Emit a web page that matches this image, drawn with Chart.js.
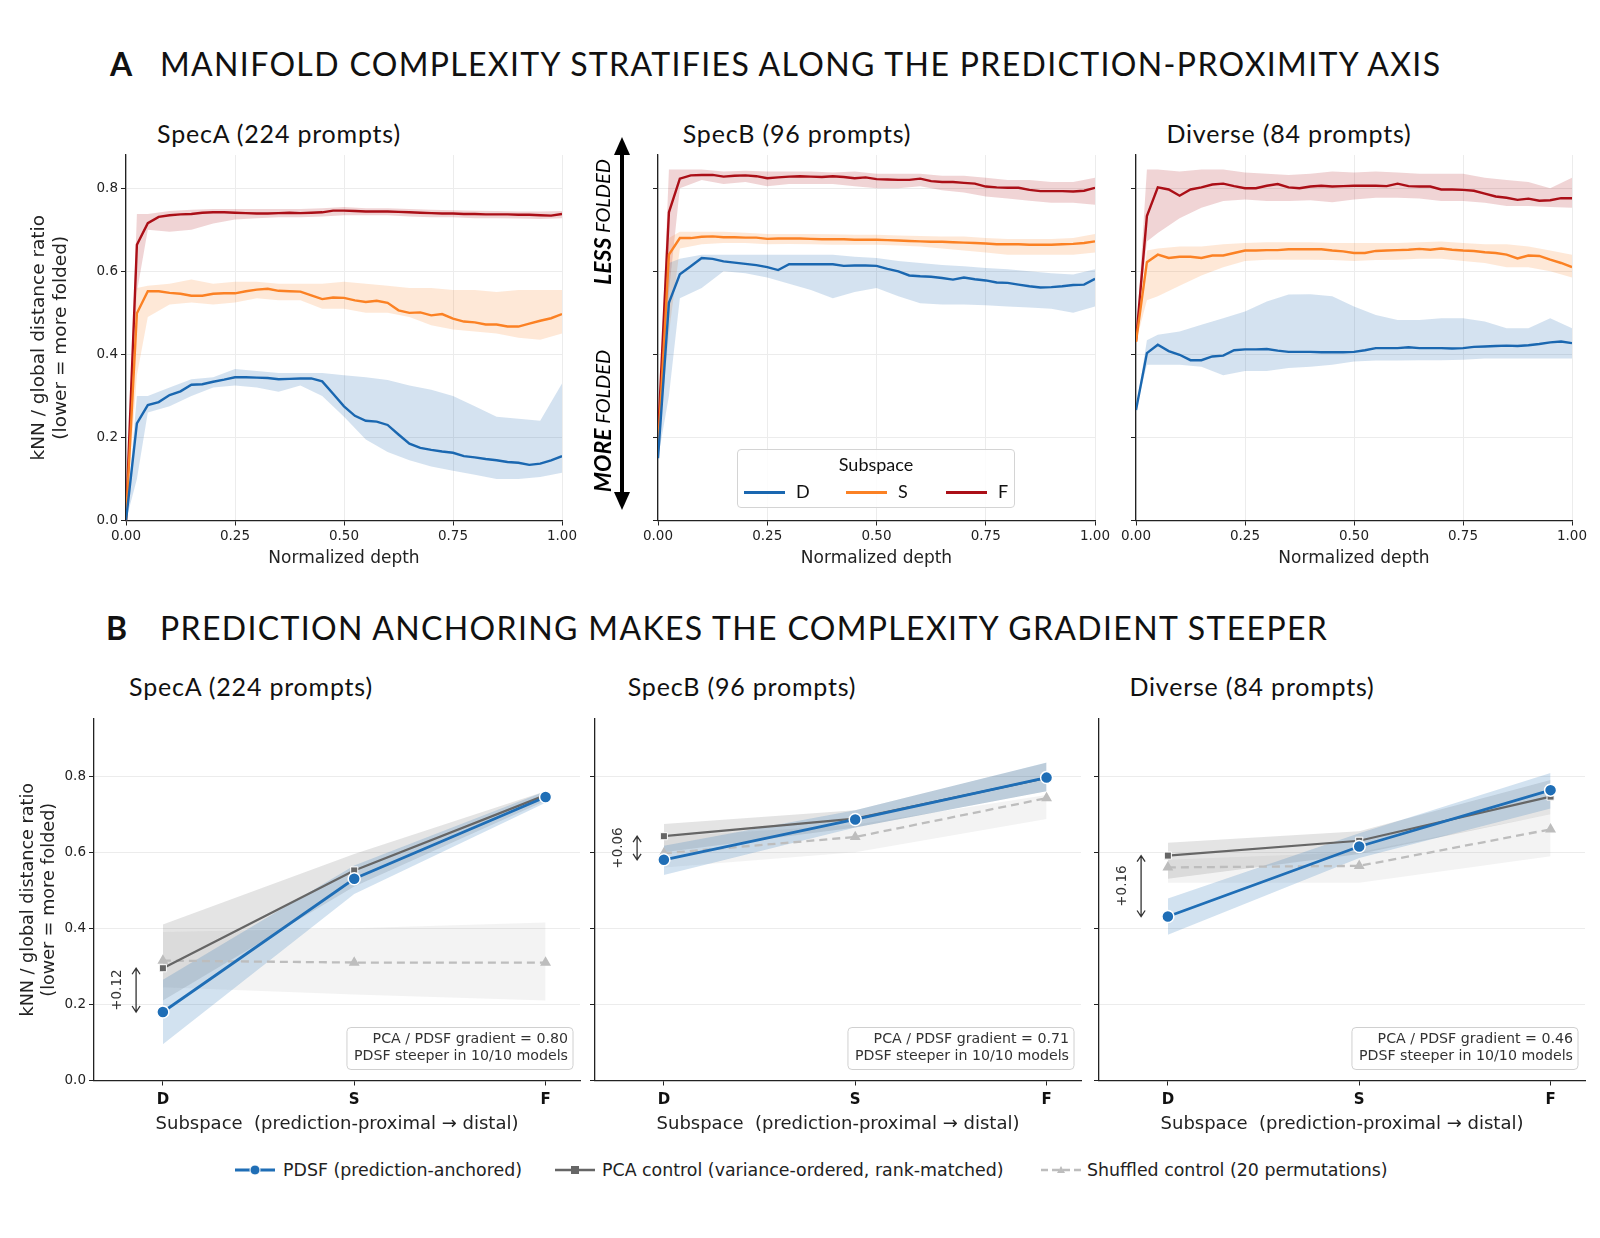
<!DOCTYPE html>
<html>
<head>
<meta charset="utf-8">
<title>Manifold complexity along the prediction-proximity axis</title>
<script src="https://cdn.jsdelivr.net/npm/chart.js@4.4.1/dist/chart.umd.min.js"></script>
<style>
  html, body { margin: 0; padding: 0; background: #fff; }
  #page { position: relative; width: 1600px; height: 1238px; overflow: hidden; font-family: Lato, 'Noto Sans', sans-serif; color: #111; }
  .plot { position: absolute; }
  .heading { position: absolute; font-size: 32px; line-height: 36px; white-space: nowrap; }
  .heading b { position: absolute; left: 0; top: 0; }
  .heading span { position: absolute; left: 50px; top: 0; letter-spacing: 1.35px; }
  .sub { position: absolute; font-size: 25px; line-height: 30px; letter-spacing: 0.8px; white-space: nowrap; transform: translate(-50%, -50%); }
  #subLegend { position: absolute; left: 737px; top: 449px; width: 276px; height: 57px; border: 1px solid #d4d4d4; border-radius: 4px; background: rgba(255,255,255,0.85); font-size: 18px; }
  #subLegend div { position: absolute; white-space: nowrap; }
  #subLegend i { position: absolute; height: 3px; width: 41px; top: 41px; }
  .leg { position: absolute; top: 1158px; font-family: 'DejaVu Sans', sans-serif; font-size: 17.4px; line-height: 24px; color: #222; white-space: nowrap; }
</style>
</head>
<body>
<div id="page">
  <div class="heading" style="left:110px; top:46px;"><b>A</b><span>MANIFOLD COMPLEXITY STRATIFIES ALONG THE PREDICTION-PROXIMITY AXIS</span></div>
  <div class="heading" style="left:106px; top:610px;"><b>B</b><span style="left:54px;">PREDICTION ANCHORING MAKES THE COMPLEXITY GRADIENT STEEPER</span></div>

  <div class="sub" style="left:279px; top:133px;">SpecA (224 prompts)</div>
  <div class="sub" style="left:797px; top:133px;">SpecB (96 prompts)</div>
  <div class="sub" style="left:1289px; top:133px;">Diverse (84 prompts)</div>
  <div class="sub" style="left:251px; top:686px;">SpecA (224 prompts)</div>
  <div class="sub" style="left:742px; top:686px;">SpecB (96 prompts)</div>
  <div class="sub" style="left:1252px; top:686px;">Diverse (84 prompts)</div>

  <div class="plot" style="left:15px; top:141.5px; width:575px; height:435px;"><canvas id="depthA"></canvas></div>
  <div class="plot" style="left:630px; top:141.5px; width:490px; height:435px;"><canvas id="depthB"></canvas></div>
  <div class="plot" style="left:1105px; top:141.5px; width:493px; height:435px;"><canvas id="depthC"></canvas></div>

  <div class="plot" style="left:5px; top:702px; width:587px; height:435px;"><canvas id="anchorA"></canvas></div>
  <div class="plot" style="left:570px; top:702px; width:523px; height:435px;"><canvas id="anchorB"></canvas></div>
  <div class="plot" style="left:1075px; top:702px; width:522px; height:435px;"><canvas id="anchorC"></canvas></div>

  <!-- folded / less folded cue between the first two depth panels -->
  <svg style="position:absolute; left:570px; top:125px;" width="70" height="395">
    <line x1="52" y1="24" x2="52" y2="372" stroke="#000" stroke-width="4"/>
    <polygon points="52,12 44,30 60,30" fill="#000"/>
    <polygon points="52,385 44,367 60,367" fill="#000"/>
    <text transform="translate(32,97) rotate(-90)" text-anchor="middle" dominant-baseline="central" font-family="Lato, sans-serif" font-style="italic" font-size="20"><tspan font-weight="bold" font-size="23">LESS</tspan> FOLDED</text>
    <text transform="translate(32,296) rotate(-90)" text-anchor="middle" dominant-baseline="central" font-family="Lato, sans-serif" font-style="italic" font-size="20"><tspan font-weight="bold" font-size="23">MORE</tspan> FOLDED</text>
  </svg>

  <div id="subLegend">
    <div style="left:0; width:276px; text-align:center; top:3px;">Subspace</div>
    <i style="left:6px; background:#1a67b0;"></i><div style="left:58px; top:30px;">D</div>
    <i style="left:108px; background:#fb8124;"></i><div style="left:160px; top:30px;">S</div>
    <i style="left:208px; background:#ab0f17;"></i><div style="left:260px; top:30px;">F</div>
  </div>

  <svg style="position:absolute; left:225px; top:1155px;" width="880" height="30">
    <line x1="10" y1="15" x2="50" y2="15" stroke="#1f6eb6" stroke-width="3"/>
    <circle cx="30" cy="15" r="5" fill="#1f6eb6" stroke="#fff" stroke-width="1"/>
    <line x1="330" y1="15" x2="370" y2="15" stroke="#666" stroke-width="2.5"/>
    <rect x="346" y="11" width="8" height="8" fill="#666"/>
    <line x1="816" y1="15" x2="856" y2="15" stroke="#bdbdbd" stroke-width="2.5" stroke-dasharray="7,4"/>
    <polygon points="836,11 840,18 832,18" fill="#bdbdbd"/>
  </svg>
  <div class="leg" style="left:283px;">PDSF (prediction-anchored)</div>
  <div class="leg" style="left:602px;">PCA control (variance-ordered, rank-matched)</div>
  <div class="leg" style="left:1087px;">Shuffled control (20 permutations)</div>
</div>

<script>
// ---------- Panel A: kNN / global distance ratio along normalized depth ----------
const depth = [0, 0.025, 0.05, 0.075, 0.1, 0.125, 0.15, 0.175, 0.2, 0.225, 0.25, 0.275, 0.3, 0.325, 0.35, 0.375, 0.4, 0.425, 0.45, 0.475, 0.5,
  0.525, 0.55, 0.575, 0.6, 0.625, 0.65, 0.675, 0.7, 0.725, 0.75, 0.775, 0.8, 0.825, 0.85, 0.875, 0.9, 0.925, 0.95, 0.975, 1.0];
const bandDepth = [0, 0.025, 0.05, 0.1, 0.15, 0.2, 0.25, 0.3, 0.35, 0.4, 0.45, 0.5, 0.55, 0.6, 0.65, 0.7, 0.75, 0.8, 0.85, 0.9, 0.95, 1.0];
const depthTicks = [0, 0.25, 0.5, 0.75, 1.0];
const ratioTicks = [0, 0.2, 0.4, 0.6, 0.8];

// SpecA
const specA_D = [0.0, 0.234, 0.278, 0.285, 0.302, 0.311, 0.327, 0.328, 0.334, 0.339, 0.345, 0.345, 0.344, 0.343, 0.340, 0.341, 0.342, 0.342, 0.335, 0.305, 0.275,
  0.252, 0.240, 0.238, 0.230, 0.207, 0.185, 0.175, 0.170, 0.166, 0.163, 0.155, 0.152, 0.148, 0.145, 0.141, 0.139, 0.134, 0.137, 0.145, 0.155];
const specA_D_lo = [0.0, 0.10, 0.26, 0.275, 0.30, 0.32, 0.325, 0.32, 0.31, 0.325, 0.30, 0.25, 0.195, 0.165, 0.145, 0.13, 0.12, 0.11, 0.10, 0.10, 0.105, 0.115];
const specA_D_hi = [0.0, 0.30, 0.30, 0.32, 0.34, 0.345, 0.365, 0.36, 0.355, 0.355, 0.355, 0.35, 0.345, 0.338, 0.325, 0.315, 0.30, 0.275, 0.25, 0.245, 0.24, 0.33];
const specA_S = [0.0, 0.499, 0.552, 0.552, 0.548, 0.546, 0.541, 0.541, 0.546, 0.547, 0.547, 0.552, 0.556, 0.558, 0.553, 0.552, 0.551, 0.542, 0.533, 0.537, 0.536,
  0.530, 0.526, 0.529, 0.524, 0.506, 0.500, 0.501, 0.494, 0.497, 0.486, 0.479, 0.477, 0.472, 0.472, 0.467, 0.467, 0.474, 0.481, 0.487, 0.497];
const specA_S_lo = [0.0, 0.35, 0.49, 0.52, 0.525, 0.52, 0.525, 0.535, 0.53, 0.53, 0.51, 0.51, 0.50, 0.50, 0.49, 0.47, 0.46, 0.455, 0.45, 0.44, 0.435, 0.45];
const specA_S_hi = [0.0, 0.56, 0.565, 0.57, 0.58, 0.57, 0.575, 0.575, 0.57, 0.57, 0.57, 0.575, 0.57, 0.565, 0.56, 0.56, 0.555, 0.555, 0.55, 0.555, 0.555, 0.555];
const specA_F = [0.0, 0.664, 0.716, 0.731, 0.735, 0.737, 0.738, 0.741, 0.742, 0.742, 0.741, 0.740, 0.739, 0.739, 0.740, 0.741, 0.740, 0.741, 0.742, 0.746, 0.746,
  0.745, 0.744, 0.744, 0.744, 0.743, 0.742, 0.741, 0.740, 0.739, 0.739, 0.738, 0.738, 0.737, 0.737, 0.737, 0.736, 0.736, 0.735, 0.734, 0.738];
const specA_F_lo = [0.0, 0.55, 0.70, 0.695, 0.70, 0.715, 0.725, 0.728, 0.73, 0.73, 0.732, 0.735, 0.735, 0.735, 0.732, 0.73, 0.73, 0.728, 0.728, 0.727, 0.726, 0.728];
const specA_F_hi = [0.0, 0.738, 0.738, 0.745, 0.748, 0.75, 0.75, 0.75, 0.75, 0.75, 0.752, 0.755, 0.752, 0.752, 0.75, 0.748, 0.747, 0.746, 0.745, 0.744, 0.744, 0.745];

// SpecB
const specB_D = [0.15, 0.524, 0.593, 0.612, 0.632, 0.630, 0.624, 0.621, 0.618, 0.615, 0.610, 0.603, 0.617, 0.617, 0.617, 0.617, 0.617, 0.613, 0.614, 0.614, 0.613,
  0.606, 0.600, 0.590, 0.588, 0.587, 0.584, 0.580, 0.585, 0.581, 0.578, 0.573, 0.572, 0.568, 0.564, 0.561, 0.562, 0.564, 0.567, 0.568, 0.582];
const specB_D_lo = [0.15, 0.30, 0.535, 0.56, 0.60, 0.595, 0.585, 0.57, 0.555, 0.535, 0.55, 0.56, 0.54, 0.523, 0.52, 0.52, 0.518, 0.515, 0.513, 0.51, 0.50, 0.515];
const specB_D_hi = [0.15, 0.62, 0.63, 0.64, 0.64, 0.64, 0.64, 0.64, 0.64, 0.64, 0.635, 0.632, 0.625, 0.62, 0.615, 0.612, 0.608, 0.605, 0.60, 0.595, 0.592, 0.605];
const specB_S = [0.17, 0.640, 0.680, 0.680, 0.683, 0.684, 0.682, 0.682, 0.681, 0.681, 0.678, 0.679, 0.679, 0.679, 0.678, 0.677, 0.677, 0.677, 0.676, 0.676, 0.676,
  0.675, 0.674, 0.673, 0.672, 0.671, 0.671, 0.670, 0.669, 0.668, 0.667, 0.665, 0.665, 0.665, 0.664, 0.664, 0.664, 0.665, 0.666, 0.668, 0.672];
const specB_S_lo = [0.17, 0.45, 0.655, 0.665, 0.668, 0.668, 0.665, 0.666, 0.665, 0.664, 0.664, 0.664, 0.662, 0.66, 0.655, 0.65, 0.645, 0.64, 0.64, 0.64, 0.64, 0.645];
const specB_S_hi = [0.17, 0.68, 0.695, 0.695, 0.695, 0.693, 0.69, 0.69, 0.69, 0.689, 0.688, 0.688, 0.686, 0.685, 0.684, 0.684, 0.68, 0.678, 0.678, 0.678, 0.68, 0.69];
const specB_F = [0.20, 0.742, 0.823, 0.831, 0.832, 0.832, 0.828, 0.830, 0.831, 0.829, 0.824, 0.826, 0.828, 0.829, 0.828, 0.827, 0.829, 0.827, 0.824, 0.826, 0.822,
  0.821, 0.820, 0.820, 0.823, 0.817, 0.815, 0.815, 0.813, 0.811, 0.804, 0.802, 0.801, 0.801, 0.796, 0.793, 0.793, 0.793, 0.792, 0.794, 0.801];
const specB_F_lo = [0.20, 0.55, 0.80, 0.82, 0.81, 0.815, 0.805, 0.81, 0.81, 0.81, 0.805, 0.80, 0.80, 0.805, 0.795, 0.79, 0.78, 0.775, 0.77, 0.765, 0.765, 0.76];
const specB_F_hi = [0.20, 0.845, 0.845, 0.845, 0.84, 0.842, 0.84, 0.84, 0.84, 0.838, 0.84, 0.835, 0.835, 0.835, 0.83, 0.83, 0.825, 0.82, 0.82, 0.815, 0.815, 0.825];

// Diverse
const diverse_D = [0.266, 0.403, 0.423, 0.408, 0.399, 0.386, 0.386, 0.395, 0.397, 0.410, 0.412, 0.412, 0.413, 0.409, 0.406, 0.406, 0.406, 0.405, 0.405, 0.405, 0.406,
  0.410, 0.415, 0.415, 0.415, 0.417, 0.415, 0.415, 0.415, 0.414, 0.415, 0.418, 0.419, 0.420, 0.421, 0.420, 0.422, 0.425, 0.429, 0.431, 0.427];
const diverse_D_lo = [0.266, 0.375, 0.375, 0.375, 0.37, 0.35, 0.36, 0.36, 0.367, 0.37, 0.375, 0.383, 0.385, 0.385, 0.386, 0.386, 0.387, 0.39, 0.39, 0.39, 0.39, 0.39];
const diverse_D_hi = [0.266, 0.434, 0.447, 0.455, 0.471, 0.487, 0.503, 0.527, 0.544, 0.545, 0.54, 0.515, 0.495, 0.483, 0.483, 0.487, 0.487, 0.479, 0.463, 0.463, 0.487, 0.463];
const diverse_S = [0.43, 0.622, 0.640, 0.632, 0.635, 0.635, 0.632, 0.638, 0.638, 0.644, 0.650, 0.650, 0.651, 0.651, 0.653, 0.653, 0.653, 0.653, 0.650, 0.648, 0.644,
  0.644, 0.649, 0.650, 0.651, 0.652, 0.654, 0.652, 0.655, 0.652, 0.650, 0.649, 0.646, 0.644, 0.640, 0.631, 0.638, 0.637, 0.628, 0.620, 0.610];
const diverse_S_lo = [0.43, 0.53, 0.54, 0.565, 0.59, 0.61, 0.625, 0.628, 0.628, 0.628, 0.627, 0.625, 0.627, 0.628, 0.63, 0.63, 0.625, 0.62, 0.61, 0.61, 0.60, 0.585];
const diverse_S_hi = [0.43, 0.65, 0.655, 0.66, 0.66, 0.665, 0.668, 0.67, 0.67, 0.67, 0.668, 0.668, 0.668, 0.668, 0.67, 0.672, 0.668, 0.665, 0.665, 0.66, 0.65, 0.64];
const diverse_F = [0.431, 0.733, 0.802, 0.797, 0.782, 0.797, 0.802, 0.809, 0.811, 0.805, 0.800, 0.800, 0.806, 0.810, 0.802, 0.800, 0.804, 0.806, 0.804, 0.805, 0.806,
  0.806, 0.806, 0.805, 0.811, 0.805, 0.804, 0.804, 0.797, 0.797, 0.796, 0.794, 0.787, 0.780, 0.777, 0.772, 0.775, 0.770, 0.771, 0.776, 0.776];
const diverse_F_lo = [0.431, 0.672, 0.692, 0.728, 0.753, 0.769, 0.773, 0.769, 0.769, 0.771, 0.766, 0.773, 0.777, 0.777, 0.775, 0.769, 0.769, 0.765, 0.757, 0.757, 0.755, 0.753];
const diverse_F_hi = [0.431, 0.845, 0.845, 0.84, 0.845, 0.845, 0.838, 0.835, 0.832, 0.835, 0.84, 0.838, 0.84, 0.838, 0.835, 0.835, 0.835, 0.825, 0.82, 0.815, 0.80, 0.825];

// ---------- Panel B: PDSF vs controls per subspace ----------
const subspaces = ['D', 'S', 'F'];
const subspaceX = [0, 1, 2];
const anchorTicks = [0, 0.2, 0.4, 0.6, 0.8];

const specA_pdsf = [0.18, 0.53, 0.745], specA_pdsf_lo = [0.095, 0.49, 0.73], specA_pdsf_hi = [0.265, 0.565, 0.76];
const specA_pca = [0.295, 0.552, 0.75], specA_pca_lo = [0.21, 0.51, 0.735], specA_pca_hi = [0.41, 0.595, 0.76];
const specA_shuf = [0.315, 0.31, 0.31], specA_shuf_lo = [0.245, 0.226, 0.21], specA_shuf_hi = [0.39, 0.40, 0.415];

const specB_pdsf = [0.58, 0.686, 0.796], specB_pdsf_lo = [0.54, 0.665, 0.76], specB_pdsf_hi = [0.617, 0.71, 0.836];
const specB_pca = [0.642, 0.688, 0.795], specB_pca_lo = [0.60, 0.665, 0.76], specB_pca_hi = [0.674, 0.71, 0.835];
const specB_shuf = [0.597, 0.64, 0.742], specB_shuf_lo = [0.56, 0.60, 0.687], specB_shuf_hi = [0.64, 0.672, 0.75];

const diverse_pdsf = [0.431, 0.615, 0.763], diverse_pdsf_lo = [0.383, 0.585, 0.715], diverse_pdsf_hi = [0.478, 0.65, 0.808];
const diverse_pca = [0.591, 0.63, 0.746], diverse_pca_lo = [0.53, 0.595, 0.70], diverse_pca_hi = [0.625, 0.655, 0.79];
const diverse_shuf = [0.56, 0.564, 0.66], diverse_shuf_lo = [0.52, 0.52, 0.589], diverse_shuf_hi = [0.58, 0.60, 0.70];

const dGap = [0.12, 0.06, 0.16];
const gradientRatio = [0.80, 0.71, 0.46];
const steeperModels = ['10/10', '10/10', '10/10'];

Chart.defaults.font.family = "'DejaVu Sans', sans-serif";
Chart.defaults.color = '#222';
Chart.defaults.animation = false;

const GRID = '#ececec';
const INK = '#222';

function xy(xs, ys) {
  return ys.map((v, i) => ({ x: xs[i], y: v }));
}

// fixed-size axes so every panel's plot area lines up
function yAxis(ticks, max, width, showLabels, title, titleSize) {
  return {
    type: 'linear', min: 0, max: max,
    afterBuildTicks: s => { s.ticks = ticks.map(v => ({ value: v })); },
    afterFit: s => { s.width = width; },
    grid: { color: GRID, tickColor: INK, tickLength: 5 },
    border: { color: INK, width: 1.3 },
    ticks: { font: { size: 13.5 }, padding: 3, callback: v => showLabels ? v.toFixed(1) : '' },
    title: title ? { display: true, text: title, font: { size: titleSize }, padding: { top: 13, bottom: 0 } } : { display: false }
  };
}

function depthChart(id, series, geo, yTitle) {
  const datasets = [];
  series.forEach(s => {
    datasets.push({ data: xy(bandDepth, s.lo), borderWidth: 0, pointRadius: 0, fill: false, order: 1 });
    datasets.push({ data: xy(bandDepth, s.hi), borderWidth: 0, pointRadius: 0, fill: '-1', backgroundColor: s.band, order: 1 });
  });
  series.forEach(s => {
    datasets.push({ data: xy(depth, s.mean), borderColor: s.color, borderWidth: 2.4, pointRadius: 0, fill: false, order: 0 });
  });

  return new Chart(document.getElementById(id), {
    type: 'line',
    data: { datasets },
    options: {
      responsive: true, maintainAspectRatio: false, events: [],
      layout: { padding: { top: 13, right: geo.padRight, left: 0, bottom: 0 } },
      elements: { line: { tension: 0 } },
      plugins: { legend: { display: false }, tooltip: { enabled: false } },
      scales: {
        x: {
          type: 'linear', min: 0, max: 1,
          afterBuildTicks: s => { s.ticks = depthTicks.map(v => ({ value: v })); },
          afterFit: s => { s.height = 56.5; },
          grid: { color: GRID, tickColor: INK, tickLength: 5 },
          border: { color: INK, width: 1.3 },
          ticks: { font: { size: 13.5 }, padding: 3, maxRotation: 0, callback: v => v.toFixed(2) },
          title: { display: true, text: 'Normalized depth', font: { size: 17 }, padding: { top: 0, bottom: 8 } }
        },
        y: yAxis(ratioTicks, 0.88, geo.yWidth, !!yTitle, yTitle, 18.5)
      }
    }
  });
}

const blueA = '#1a67b0', orangeA = '#fb8124', redA = '#ab0f17';
const bandBlue = 'rgba(26,103,176,0.19)', bandOrange = 'rgba(251,129,36,0.18)', bandRed = 'rgba(171,15,23,0.18)';

function subspaceSeries(d, dLo, dHi, s, sLo, sHi, f, fLo, fHi) {
  return [
    { mean: d, lo: dLo, hi: dHi, color: blueA, band: bandBlue },
    { mean: s, lo: sLo, hi: sHi, color: orangeA, band: bandOrange },
    { mean: f, lo: fLo, hi: fHi, color: redA, band: bandRed }
  ];
}

const yTitleText = ['kNN / global distance ratio', '(lower = more folded)'];

depthChart('depthA', subspaceSeries(specA_D, specA_D_lo, specA_D_hi, specA_S, specA_S_lo, specA_S_hi, specA_F, specA_F_lo, specA_F_hi),
  { yWidth: 111, padRight: 28 }, yTitleText);
depthChart('depthB', subspaceSeries(specB_D, specB_D_lo, specB_D_hi, specB_S, specB_S_lo, specB_S_hi, specB_F, specB_F_lo, specB_F_hi),
  { yWidth: 28, padRight: 25 }, null);
depthChart('depthC', subspaceSeries(diverse_D, diverse_D_lo, diverse_D_hi, diverse_S, diverse_S_lo, diverse_S_hi, diverse_F, diverse_F_lo, diverse_F_hi),
  { yWidth: 31, padRight: 26 }, null);

// draws the D-gap arrow and the gradient stats box for one anchoring panel
const gapNotes = {
  id: 'gapNotes',
  afterDatasetsDraw(chart, args, opts) {
    const { ctx, chartArea, scales: { x, y } } = chart;
    ctx.save();

    // double arrow between PDSF and PCA at D
    const ax = x.getPixelForValue(-0.14);
    const yTop = y.getPixelForValue(opts.top);
    const yBot = y.getPixelForValue(opts.bottom);
    ctx.strokeStyle = '#333';
    ctx.lineWidth = 1.3;
    ctx.beginPath();
    ctx.moveTo(ax, yTop); ctx.lineTo(ax, yBot);
    ctx.moveTo(ax - 4, yTop + 6); ctx.lineTo(ax, yTop); ctx.lineTo(ax + 4, yTop + 6);
    ctx.moveTo(ax - 4, yBot - 6); ctx.lineTo(ax, yBot); ctx.lineTo(ax + 4, yBot - 6);
    ctx.stroke();

    ctx.fillStyle = '#333';
    ctx.font = "13.5px 'DejaVu Sans', sans-serif";
    ctx.textAlign = 'center';
    ctx.textBaseline = 'middle';
    ctx.translate(x.getPixelForValue(-0.235), (yTop + yBot) / 2);
    ctx.rotate(-Math.PI / 2);
    ctx.fillText(opts.label, 0, 0);
    ctx.restore();

    // stats box, bottom right
    ctx.save();
    ctx.font = "14.2px 'DejaVu Sans', sans-serif";
    const w = Math.max(...opts.lines.map(t => ctx.measureText(t).width)) + 12;
    const h = 42;
    const right = chartArea.right - 7;
    const bottom = chartArea.bottom - 11;
    ctx.beginPath();
    ctx.roundRect(right - w, bottom - h, w, h, 4);
    ctx.fillStyle = 'rgba(255,255,255,0.85)';
    ctx.fill();
    ctx.strokeStyle = '#d0d0d0';
    ctx.lineWidth = 1;
    ctx.stroke();
    ctx.fillStyle = '#333';
    ctx.textAlign = 'right';
    ctx.textBaseline = 'middle';
    ctx.fillText(opts.lines[0], right - 5, bottom - h + 12);
    ctx.fillText(opts.lines[1], right - 5, bottom - h + 29);
    ctx.restore();
  }
};

const pdsfBlue = '#1f6eb6', pcaGray = '#666666', shufGray = '#bdbdbd';

function anchorChart(id, idx, d, geo, yTitle) {
  const band = (lo, hi, color, order) => [
    { data: xy(subspaceX, lo), borderWidth: 0, pointRadius: 0, fill: false, order: order },
    { data: xy(subspaceX, hi), borderWidth: 0, pointRadius: 0, fill: '-1', backgroundColor: color, order: order }
  ];
  const datasets = [
    ...band(d.shufLo, d.shufHi, 'rgba(170,170,170,0.14)', 5),
    ...band(d.pcaLo, d.pcaHi, 'rgba(120,120,120,0.2)', 4),
    ...band(d.pdsfLo, d.pdsfHi, 'rgba(31,110,182,0.2)', 3),
    { data: xy(subspaceX, d.shuf), borderColor: shufGray, borderWidth: 2.3, borderDash: [8, 5], fill: false, order: 2,
      pointStyle: 'triangle', pointRadius: 4, pointBackgroundColor: shufGray, pointBorderColor: shufGray },
    { data: xy(subspaceX, d.pca), borderColor: pcaGray, borderWidth: 2.2, fill: false, order: 1,
      pointStyle: 'rect', pointRadius: 5, pointBackgroundColor: pcaGray, pointBorderColor: '#fff', pointBorderWidth: 1 },
    { data: xy(subspaceX, d.pdsf), borderColor: pdsfBlue, borderWidth: 2.8, fill: false, order: 0,
      pointStyle: 'circle', pointRadius: 6, pointBackgroundColor: pdsfBlue, pointBorderColor: '#fff', pointBorderWidth: 1.5 }
  ];

  return new Chart(document.getElementById(id), {
    type: 'line',
    data: { datasets },
    plugins: [gapNotes],
    options: {
      responsive: true, maintainAspectRatio: false, events: [],
      layout: { padding: { top: 17, right: 12, left: 0, bottom: 0 } },
      elements: { line: { tension: 0 } },
      plugins: {
        legend: { display: false }, tooltip: { enabled: false },
        gapNotes: {
          top: d.pca[0], bottom: d.pdsf[0],
          label: '+' + dGap[idx].toFixed(2),
          lines: ['PCA / PDSF gradient = ' + gradientRatio[idx].toFixed(2), 'PDSF steeper in ' + steeperModels[idx] + ' models']
        }
      },
      scales: {
        x: {
          type: 'linear', min: -0.36, max: 2.18,
          afterBuildTicks: s => { s.ticks = subspaceX.map(v => ({ value: v })); },
          afterFit: s => { s.height = 56.5; },
          grid: { display: true, drawOnChartArea: false, tickColor: INK, tickLength: 5 },
          border: { color: INK, width: 1.3 },
          ticks: { font: { size: 15, weight: 'bold' }, color: '#111', padding: 6, maxRotation: 0, callback: v => subspaces[v] },
          title: { display: true, text: 'Subspace  (prediction-proximal \u2192 distal)', font: { size: 18 }, padding: { top: 0, bottom: 2 } }
        },
        y: yAxis(anchorTicks, 0.95, geo.yWidth, !!yTitle, yTitle, 17.6)
      }
    }
  });
}

anchorChart('anchorA', 0, {
  pdsf: specA_pdsf, pdsfLo: specA_pdsf_lo, pdsfHi: specA_pdsf_hi,
  pca: specA_pca, pcaLo: specA_pca_lo, pcaHi: specA_pca_hi,
  shuf: specA_shuf, shufLo: specA_shuf_lo, shufHi: specA_shuf_hi
}, { yWidth: 89 }, yTitleText);

anchorChart('anchorB', 1, {
  pdsf: specB_pdsf, pdsfLo: specB_pdsf_lo, pdsfHi: specB_pdsf_hi,
  pca: specB_pca, pcaLo: specB_pca_lo, pcaHi: specB_pca_hi,
  shuf: specB_shuf, shufLo: specB_shuf_lo, shufHi: specB_shuf_hi
}, { yWidth: 25 }, null);

anchorChart('anchorC', 2, {
  pdsf: diverse_pdsf, pdsfLo: diverse_pdsf_lo, pdsfHi: diverse_pdsf_hi,
  pca: diverse_pca, pcaLo: diverse_pca_lo, pcaHi: diverse_pca_hi,
  shuf: diverse_shuf, shufLo: diverse_shuf_lo, shufHi: diverse_shuf_hi
}, { yWidth: 24 }, null);
</script>
</body>
</html>
